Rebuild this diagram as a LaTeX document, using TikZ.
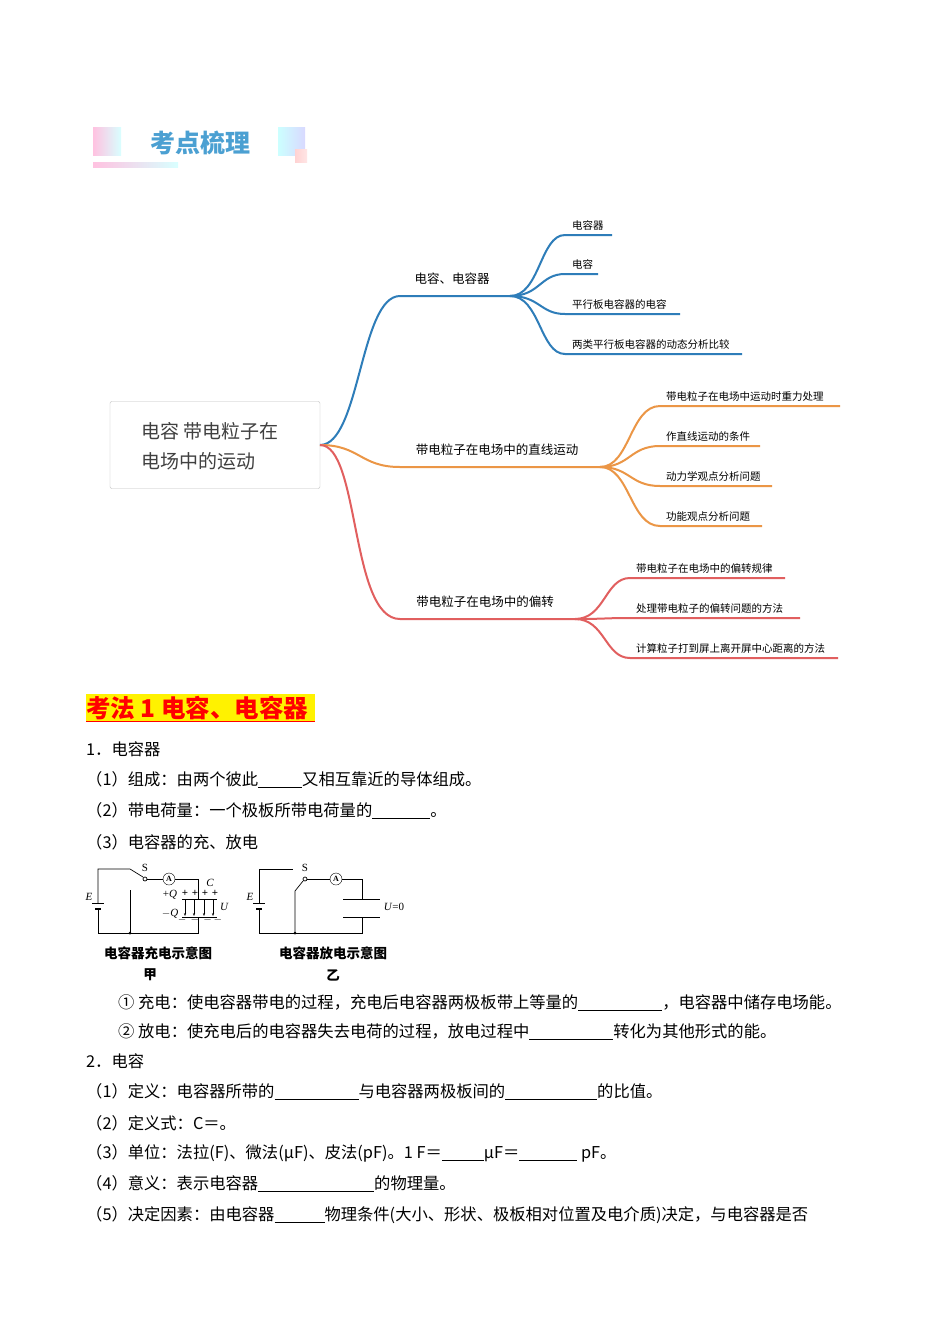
\documentclass[tikz,border=0pt]{standalone}
\usepackage{fontspec}
\setmainfont{Liberation Serif}
\newfontfamily\cjk{Noto Sans CJK SC}
\usetikzlibrary{arrows.meta}
\definecolor{bb}{RGB}{46,125,185}
\definecolor{oo}{RGB}{235,150,70}
\definecolor{rr}{RGB}{225,95,95}
\definecolor{hd}{RGB}{75,160,210}
\newcommand{\blk}[1]{\rule[-2pt]{#1pt}{0.6pt}}
\tikzset{
  tx/.style={anchor=west,inner sep=0,font=\cjk\fontsize{16.3}{16}\selectfont},
  br/.style={anchor=south,inner sep=4pt,font=\cjk\fontsize{12.5}{12}\selectfont},
  ch/.style={anchor=south west,inner sep=4pt,font=\cjk\fontsize{10.5}{10}\selectfont},
  ln/.style={line width=2pt},
  captxt/.style={inner sep=0,font=\cjk\bfseries\fontsize{13.5}{13}\selectfont},
  wire/.style={line width=0.7pt}
}
\begin{document}
\begin{tikzpicture}[x=1pt,y=-1pt]
\useasboundingbox[fill=white] (0,0) rectangle (950,1344);
% header
\shade[left color=pink!80!magenta!60, right color=cyan!15] (93,127) rectangle (121,155);
\node[font=\cjk\bfseries\fontsize{25}{25}\selectfont,text=hd] (hdr) at (200,143) {考点梳理};
\shade[left color=cyan!20, right color=blue!15] (278,127) rectangle (305,155);
\shade[left color=pink!70, right color=pink!40] (295,149) rectangle (307,162);
\shade[left color=pink!80!magenta!60, right color=cyan!15] (93,162) rectangle (178,167);
% mind map root
\node[draw=gray!50,rounded corners=2pt,minimum width=210pt,minimum height=87pt,fill=white] (root) at (215,445) {};
\node[align=left,font=\cjk\fontsize{19}{30}\selectfont,text=black!75,anchor=west] (rt) at (138,446) {电容 带电粒子在\\电场中的运动};
% branch 1
\coordinate (b1) at (510,296);
\draw[bb,ln] (320,445) .. controls (360,445) and (360,296) .. (400,296) -- (b1);
\node[br] (l1) at (452,289) {电容、电容器};
\foreach \y/\e/\t in {235/612/电容器,274/598/电容,314/680/平行板电容器的电容,354/742/两类平行板电容器的动态分析比较}{
  \draw[bb,ln] (b1) .. controls (540,296) and (540,\y) .. (565,\y) -- (\e,\y);
  \node[ch] at (568,\y) {\t};
}
% branch 2
\coordinate (b2) at (600,467);
\draw[oo,ln] (320,445) .. controls (360,445) and (360,467) .. (400,467) -- (b2);
\node[br] (l2) at (497,460) {带电粒子在电场中的直线运动};
\foreach \y/\e/\t in {406/840/带电粒子在电场中运动时重力处理,446/760/作直线运动的条件,486/772/动力学观点分析问题,526/762/功能观点分析问题}{
  \draw[oo,ln] (b2) .. controls (630,467) and (630,\y) .. (660,\y) -- (\e,\y);
  \node[ch] at (662,\y) {\t};
}
% branch 3
\coordinate (b3) at (575,619);
\draw[rr,ln] (320,445) .. controls (360,445) and (350,619) .. (400,619) -- (b3);
\node[br] (l3) at (485,612) {带电粒子在电场中的偏转};
\foreach \y/\e/\t in {578/785/带电粒子在电场中的偏转规律,618/800/处理带电粒子的偏转问题的方法,658/838/计算粒子打到屏上离开屏中心距离的方法}{
  \draw[rr,ln] (b3) .. controls (605,619) and (605,\y) .. (630,\y) -- (\e,\y);
  \node[ch] at (632,\y) {\t};
}
% title
\fill[yellow] (86,694) rectangle (315,722);
\node[anchor=west,inner sep=0,text=red,font=\cjk\bfseries\fontsize{24.5}{24}\selectfont] (ttl) at (86,708) {考法 1 电容、电容器};
\draw[red,line width=1pt] (86,721) -- (315,721);
% text
\node[tx] (t1) at (86,749) {1．电容器};
\node[tx] (t2) at (86,780) {（1）组成：由两个彼此\blk{44}又相互靠近的导体组成。};
\node[tx] (t3) at (86,811) {（2）带电荷量：一个极板所带电荷量的\blk{58}。};
\node[tx] (t4) at (86,842) {（3）电容器的充、放电};
% circuit 1
\draw[wire] (98,903) -- (98,869) -- (130,869) -- (143,877);
\draw[wire] (98,909) -- (98,933) -- (198,933) -- (198,917);
\draw[wire] (92,903) -- (104,903);
\draw[line width=1.5pt] (95,909) -- (101,909);
\draw[wire] (130,890) -- (130,933);
\fill (130,933) circle (1.5);
\draw[wire] (145,879) circle (2);
\draw[wire] (147,879) -- (163,879);
\node[draw,circle,inner sep=0,minimum size=12pt,font=\bfseries\fontsize{8}{8}\selectfont] (A1) at (169,879) {A};
\draw[wire] (A1) -- (198,879) -- (198,899);
\draw[line width=1pt] (182,899) -- (217,899);
\draw[line width=1pt] (182,917) -- (217,917);
\foreach \x in {185,194,204,213}{\draw[wire,-{Stealth[length=3pt]}] (\x,899) -- (\x,916);}
\node[font=\fontsize{11}{11}\selectfont] at (145,868) {S};
\node[font=\itshape\fontsize{11}{11}\selectfont] at (89,897) {E};
\node[font=\fontsize{11}{11}\selectfont] at (170,895) {+\textit{Q}};
\node[font=\bfseries\fontsize{11}{11}\selectfont] at (200,893) {+\,\,+\,\,+\,\,+};
\node[font=\fontsize{11}{11}\selectfont] at (170,914) {$-$\textit{Q}};
\node[font=\bfseries\fontsize{11}{11}\selectfont] at (200,920) {$-\,-\,-\,-$};
\node[font=\itshape\fontsize{11}{11}\selectfont] at (210,883) {C};
\node[font=\itshape\fontsize{11}{11}\selectfont] at (224,907) {U};
\node[captxt] (c1) at (158,953) {电容器充电示意图};
\node[captxt] (c1b) at (150,975) {甲};
% circuit 2
\draw[wire] (259,903) -- (259,869) -- (293,869);
\draw[wire] (259,909) -- (259,933) -- (362,933) -- (362,917);
\draw[wire] (253,903) -- (265,903);
\draw[line width=1.5pt] (256,909) -- (262,909);
\draw[wire] (303,881) -- (295,891) -- (295,933);
\fill (295,933) circle (1.5);
\draw[wire] (305,879) circle (2);
\draw[wire] (307,879) -- (330,879);
\node[draw,circle,inner sep=0,minimum size=12pt,font=\bfseries\fontsize{8}{8}\selectfont] (A2) at (336,879) {A};
\draw[wire] (A2) -- (362,879) -- (362,899);
\draw[line width=1pt] (343,899) -- (380,899);
\draw[line width=1pt] (343,917) -- (380,917);
\node[font=\fontsize{11}{11}\selectfont] at (305,868) {S};
\node[font=\itshape\fontsize{11}{11}\selectfont] at (250,897) {E};
\node[font=\fontsize{11}{11}\selectfont] at (394,907) {\textit{U}=0};
\node[captxt] (c2) at (333,953) {电容器放电示意图};
\node[captxt] (c2b) at (333,975) {乙};
% more text
\node[tx] (t5) at (118,1003) {① 充电：使电容器带电的过程，充电后电容器两极板带上等量的\blk{84}，电容器中储存电场能。};
\node[tx] (t6) at (118,1032) {② 放电：使充电后的电容器失去电荷的过程，放电过程中\blk{84}转化为其他形式的能。};
\node[tx] (t7) at (86,1061) {2．电容};
\node[tx] (t8) at (86,1092) {（1）定义：电容器所带的\blk{84}与电容器两极板间的\blk{92}的比值。};
\node[tx] (t9) at (86,1123) {（2）定义式：C＝。};
\node[tx] (t10) at (86,1153) {（3）单位：法拉(F)、微法(μF)、皮法(pF)。1 F＝\blk{42}μF＝\blk{58}\ pF。};
\node[tx] (t11) at (86,1184) {（4）意义：表示电容器\blk{116}的物理量。};
\node[tx] (t12) at (86,1215) {（5）决定因素：由电容器\blk{50}物理条件(大小、形状、极板相对位置及电介质)决定，与电容器是否};
\end{tikzpicture}
\end{document}
